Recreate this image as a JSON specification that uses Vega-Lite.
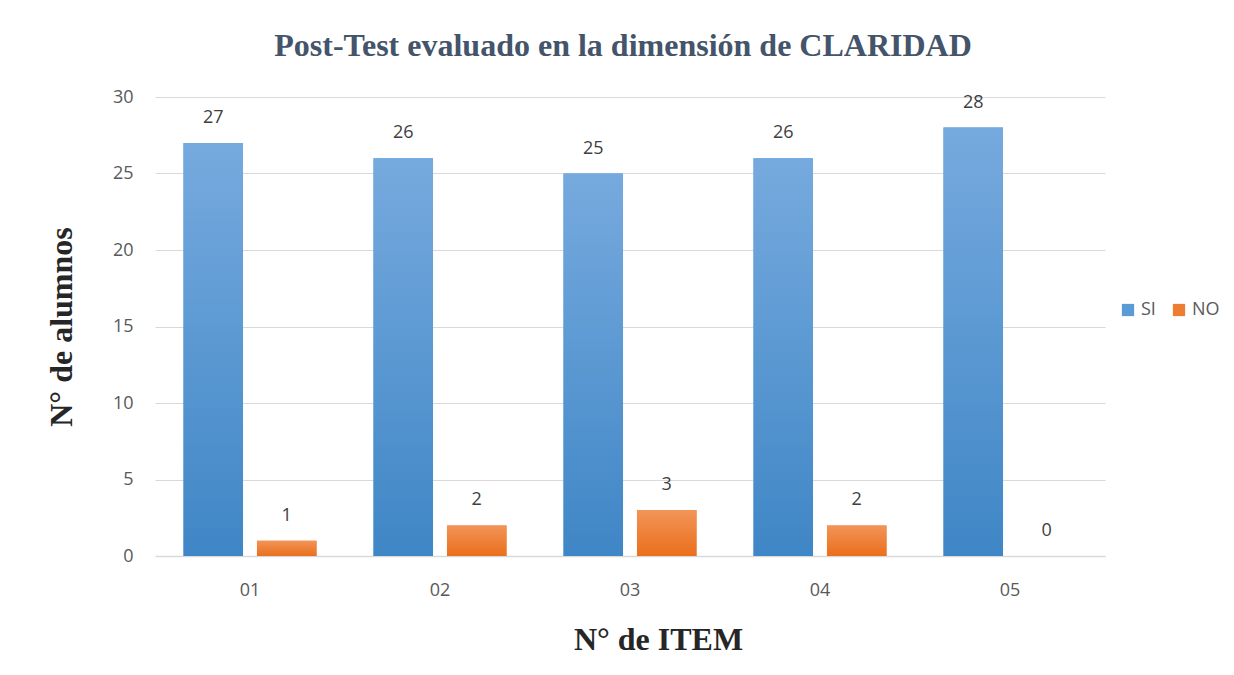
{
  "$schema": "https://vega.github.io/schema/vega-lite/v6.json",
  "autosize": {"type": "none"},
  "width": 950,
  "height": 459,
  "padding": {"left": 155, "top": 97, "right": 129, "bottom": 119},
  "background": "white",
  "config": {"view": {"stroke": null}},
  "title": {
    "text": "Post-Test evaluado en la dimensión de CLARIDAD",
    "font": "Liberation Serif",
    "fontSize": 32,
    "fontWeight": "bold",
    "color": "#44546a",
    "anchor": "middle",
    "offset": 25,
    "dx": -7
  },
  "data": {
    "values": [
      {"item": "01", "serie": "SI", "valor": 27},
      {"item": "01", "serie": "NO", "valor": 1},
      {"item": "02", "serie": "SI", "valor": 26},
      {"item": "02", "serie": "NO", "valor": 2},
      {"item": "03", "serie": "SI", "valor": 25},
      {"item": "03", "serie": "NO", "valor": 3},
      {"item": "04", "serie": "SI", "valor": 26},
      {"item": "04", "serie": "NO", "valor": 2},
      {"item": "05", "serie": "SI", "valor": 28},
      {"item": "05", "serie": "NO", "valor": 0}
    ]
  },
  "encoding": {
    "x": {
      "field": "item",
      "type": "nominal",
      "scale": {"paddingInner": 0.3, "paddingOuter": 0.15},
      "axis": {
        "title": "N° de ITEM",
        "titleFont": "Liberation Serif",
        "titleFontSize": 32,
        "titleFontWeight": "bold",
        "titleColor": "#262626",
        "titleY": 68,
        "titleX": 503,
        "labelAngle": 0,
        "labelFont": "Open Sans",
        "labelFontSize": 18,
        "labelColor": "#595959",
        "labelPadding": 25,
        "ticks": false,
        "domainColor": "#d9d9d9",
        "domainWidth": 1.5
      }
    },
    "xOffset": {"field": "serie", "type": "nominal", "sort": ["SI", "NO"], "scale": {"domain": ["SI", "NO"], "paddingInner": 0.19}},
    "y": {
      "field": "valor",
      "type": "quantitative",
      "scale": {"domain": [0, 30]},
      "axis": {
        "title": "N° de alumnos",
        "titleFont": "Liberation Serif",
        "titleFontSize": 32,
        "titleFontWeight": "bold",
        "titleColor": "#262626",
        "titleX": -77,
        "values": [0, 5, 10, 15, 20, 25, 30],
        "labelFont": "Open Sans",
        "labelFontSize": 18,
        "labelColor": "#595959",
        "labelPadding": 22,
        "ticks": false,
        "domain": false,
        "gridColor": "#d9d9d9",
        "gridWidth": 1.2
      }
    }
  },
  "layer": [
    {
      "mark": {"type": "bar"},
      "encoding": {
        "color": {
          "field": "serie",
          "type": "nominal",
          "sort": ["SI", "NO"],
          "scale": {"domain": ["SI", "NO"], "range": ["#5b9bd5", "#ed7d31"]},
          "legend": {
            "title": null,
            "orient": "none",
            "direction": "horizontal",
            "legendX": 964,
            "legendY": 204,
            "symbolType": "square",
            "symbolSize": 150,
            "symbolOpacity": 1,
            "labelFont": "Open Sans",
            "labelFontSize": 18,
            "labelColor": "#595959",
            "columnPadding": 14
          }
        }
      }
    },
    {
      "transform": [{"filter": "datum.serie === 'SI'"}],
      "mark": {"type": "bar", "color": {"gradient": "linear", "x1": 0, "y1": 0, "x2": 0, "y2": 1, "stops": [{"offset": 0, "color": "#76aade"}, {"offset": 1, "color": "#3f86c6"}]}},
      "encoding": {}
    },
    {
      "transform": [{"filter": "datum.serie === 'NO'"}],
      "mark": {"type": "bar", "color": {"gradient": "linear", "x1": 0, "y1": 0, "x2": 0, "y2": 1, "stops": [{"offset": 0, "color": "#f29458"}, {"offset": 1, "color": "#ea6f1c"}]}},
      "encoding": {}
    },
    {
      "mark": {"type": "text", "baseline": "middle", "dy": -25, "font": "Open Sans", "fontSize": 18, "color": "#404040"},
      "encoding": {"text": {"field": "valor", "type": "quantitative"}}
    }
  ]
}
